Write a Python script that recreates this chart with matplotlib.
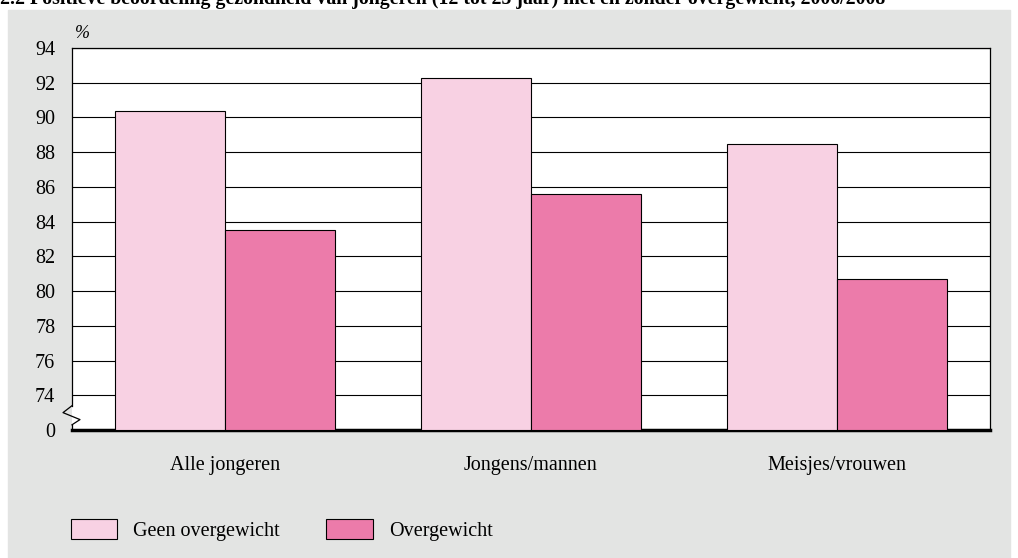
import numpy as np
import matplotlib.pyplot as plt
from matplotlib.patches import Rectangle

# Dane
title = "2.2 Positieve beoordeling gezondheid van jongeren (12 tot 25 jaar) met en zonder overgewicht, 2006/2008"
categories = ["Alle jongeren", "Jongens/mannen", "Meisjes/vrouwen"]
geen_overgewicht = [90.4, 92.3, 88.5]
overgewicht = [83.5, 85.6, 80.7]
ticks = [72, 74, 76, 78, 80, 82, 84, 86, 88, 90, 92, 94]
tick_labels = ["0", "74", "76", "78", "80", "82", "84", "86", "88", "90", "92", "94"]

light = "#F8D1E3"
dark = "#EC7BAA"
bg = "#E3E4E3"
fs = 14.5

plt.rcParams['font.family'] = ['Liberation Serif', 'DejaVu Serif']

fig = plt.figure(figsize=(10.18, 5.58), dpi=100, facecolor="white")
fig.patches.append(Rectangle((8 / 1018, 0), 1002 / 1018, 548 / 558,
                             transform=fig.transFigure, color=bg, zorder=-10))
# tytuł ucięty u góry jak w oryginale
fig.text(0, 1 - 4 / 558, title, fontsize=14.3, fontweight="bold", va="baseline", ha="left")

ax = fig.add_axes([72 / 1018, 1 - 430 / 558, 918 / 1018, 382 / 558])
ax.set_facecolor("white")

x = np.arange(len(categories))
w = 0.36
b1 = ax.bar(x - w / 2, [v - 72 for v in geen_overgewicht], w, bottom=72, color=light,
            edgecolor="black", linewidth=0.8, zorder=3, label="Geen overgewicht")
b2 = ax.bar(x + w / 2, [v - 72 for v in overgewicht], w, bottom=72, color=dark,
            edgecolor="black", linewidth=0.8, zorder=3, label="Overgewicht")

ax.set_xlim(-0.5, 2.5)
ax.set_ylim(72, 94)
ax.set_yticks(ticks)
ax.set_yticklabels(tick_labels, fontsize=fs)
ax.set_xticks(x)
ax.set_xticklabels(categories, fontsize=fs)
ax.tick_params(axis="both", length=0)
ax.tick_params(axis="y", pad=12)
ax.tick_params(axis="x", pad=19)
for t in ticks[1:]:
    ax.axhline(t, color="black", linewidth=0.8, zorder=1)

for s in ["top", "right"]:
    ax.spines[s].set_linewidth(0.9)
ax.spines["bottom"].set_linewidth(2.5)
ax.spines["left"].set_visible(False)

# lewa oś z przerwą (zygzak)
ax.plot([-0.5, -0.5], [94, 73.4], color="black", linewidth=0.9, clip_on=False, zorder=5)
zx = np.array([0, -9, 8, 0]) / 306
zy = [73.4, 73.0, 72.6, 72.3]
ax.plot(-0.5 + zx, zy, color="black", linewidth=0.9, clip_on=False, zorder=5)
ax.plot([-0.5, -0.5], [72.3, 72], color="black", linewidth=0.9, clip_on=False, zorder=5)

fig.text(75 / 1018, 1 - 38 / 558, "%", fontsize=13, style="italic")

fig.legend(handles=[b1, b2], loc="center left", bbox_to_anchor=(71 / 1018, 1 - 530 / 558),
           ncol=2, frameon=False, fontsize=fs, handlelength=2.3, handleheight=1.15,
           columnspacing=2.3, handletextpad=0.8, borderpad=0, borderaxespad=0)

fig.savefig("out.png", dpi=100, facecolor=fig.get_facecolor())
